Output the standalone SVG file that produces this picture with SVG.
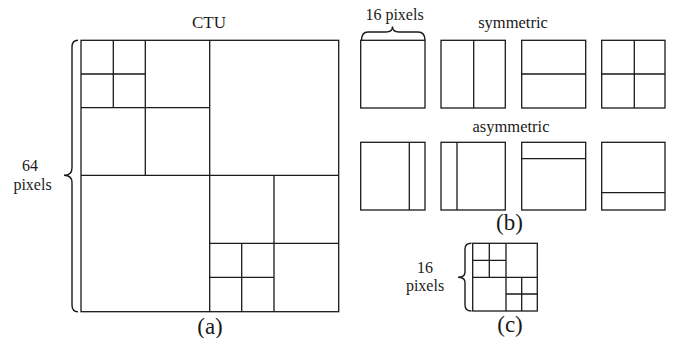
<svg xmlns="http://www.w3.org/2000/svg" width="675" height="338" viewBox="0 0 675 338">
<style>
.b{fill:none;stroke:#1a1a1a;stroke-width:1.3}
.br{fill:none;stroke:#1a1a1a;stroke-width:1.4}
text{fill:#1a1a1a;text-anchor:middle}
.t{font-size:17px}
.s{font-size:16px}
.m{font-size:16.5px}
.l{font-size:23px}
</style>
<rect width="675" height="338" fill="#fff"/>
<g id="panel-a" font-family="'Liberation Serif', 'Times New Roman', serif">
<text class="t" x="209" y="28">CTU</text>
<rect class="b" x="81" y="40.3" width="257.7" height="271.4"/>
<path class="b" d="M209.7,40.3V311.7M81,175.3H338.7M145.3,40.3V175.3M81,107.7H209.7M113.3,40.3V107.7M81,74H145.3M274,175.3V311.7M209.7,243.3H338.7M241.7,243.3V311.7M209.7,277.3H274"/>
<path class="br" d="M78,40.3Q72,40.3 72,47L72,168Q72,175.3 64,175.3Q72,175.3 72,182.5L72,305Q72,311.7 78,311.7"/>
<text class="s" x="30" y="171">64</text>
<text class="s" x="32.5" y="190">pixels</text>
<text class="l" x="210" y="334">(a)</text>
</g>
<g id="panel-b" font-family="'Liberation Serif', 'Times New Roman', serif">
<text class="s" x="394.5" y="20">16 pixels</text>
<path class="br" d="M361.5,40.3Q361.5,32 368,32L386,32Q392.5,32 392.5,26.5Q392.5,32 399,32L418,32Q425,32 425,40.3"/>
<text class="m" x="513" y="28">symmetric</text>
<rect class="b" x="360.7" y="40.3" width="64.3" height="67.7"/>
<rect class="b" x="441" y="40.3" width="64.3" height="67.7"/>
<path class="b" d="M473.7,40.3V108"/>
<rect class="b" x="521.7" y="40.3" width="64" height="67.7"/>
<path class="b" d="M521.7,74H585.7"/>
<rect class="b" x="601.7" y="40.3" width="63.3" height="67.7"/>
<path class="b" d="M634.3,40.3V108M601.7,74H665"/>
<text class="m" x="511" y="131.5">asymmetric</text>
<rect class="b" x="360.7" y="142.3" width="64.3" height="67.7"/>
<path class="b" d="M409.3,142.3V210"/>
<rect class="b" x="441" y="142.3" width="64.3" height="67.7"/>
<path class="b" d="M457,142.3V210"/>
<rect class="b" x="521.7" y="142.3" width="64" height="67.7"/>
<path class="b" d="M521.7,158.7H585.7"/>
<rect class="b" x="601.7" y="142.3" width="63.3" height="67.7"/>
<path class="b" d="M601.7,192.7H665"/>
<text class="l" x="509.5" y="230">(b)</text>
</g>
<g id="panel-c" font-family="'Liberation Serif', 'Times New Roman', serif">
<rect class="b" x="472.7" y="243.3" width="64.6" height="67.7"/>
<path class="b" d="M506,243.3V311M472.7,277.3H537.3M489.3,243.3V277.3M472.7,260.3H506M521.7,277.3V311M506,294H537.3"/>
<path class="br" d="M471.5,243.3Q465,243.3 465,249L465,272Q465,277.3 458,277.3Q465,277.3 465,282.5L465,305Q465,311 471.5,311"/>
<text class="s" x="425" y="272.5">16</text>
<text class="s" x="425" y="291">pixels</text>
<text class="l" x="510" y="332">(c)</text>
</g>
</svg>
